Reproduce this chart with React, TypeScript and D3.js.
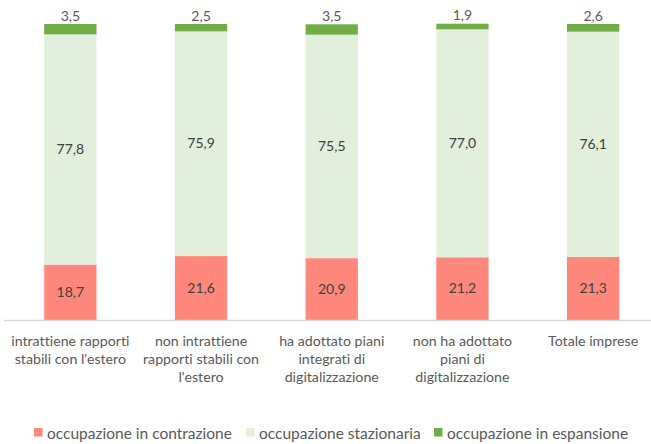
import React from "react";
import * as d3 from "d3";

const categories = [
  "intrattiene rapporti stabili con l'estero",
  "non intrattiene rapporti stabili con l'estero",
  "ha adottato piani integrati di digitalizzazione",
  "non ha adottato piani di digitalizzazione",
  "Totale imprese",
];
const categoryLines = [
  ["intrattiene rapporti", "stabili con l'estero"],
  ["non intrattiene", "rapporti stabili con", "l'estero"],
  ["ha adottato piani", "integrati di", "digitalizzazione"],
  ["non ha adottato", "piani di", "digitalizzazione"],
  ["Totale imprese"],
];
const contrazione = [18.7, 21.6, 20.9, 21.2, 21.3];
const stazionaria = [77.8, 75.9, 75.5, 77.0, 76.1];
const espansione = [3.5, 2.5, 3.5, 1.9, 2.6];

const seriesNames = [
  "occupazione in contrazione",
  "occupazione stazionaria",
  "occupazione in espansione",
];
const seriesColors = ["#FF877C", "#E2EFDA", "#70AD47"];

const W = 651;
const H = 444;
const FONT = "Lato, 'Open Sans', sans-serif";

const fmt = (v: number) => v.toFixed(1).replace(".", ",");

export default function App() {
  const x = d3
    .scaleBand<string>()
    .domain(categories)
    .range([5, 658.5])
    .paddingInner(0.6)
    .paddingOuter(0.3);
  const y = d3.scaleLinear().domain([0, 100]).range([320, 24]);

  const rows = categories.map((c, i) => ({
    cat: c,
    contrazione: contrazione[i],
    stazionaria: stazionaria[i],
    espansione: espansione[i],
  }));
  const keys = ["contrazione", "stazionaria", "espansione"];
  const stack = d3.stack<any>().keys(keys)(rows);

  const legendX = [34, 246, 434];

  return (
    <svg
      width={W}
      height={H}
      style={{
        position: "absolute",
        left: 0,
        top: 0,
        background: "#fff",
        fontVariantLigatures: "none",
        fontFeatureSettings: "'liga' 0, 'clig' 0",
      }}
      fontFamily={FONT}
    >
      <rect x={0} y={0} width={W} height={H} fill="#fff" />
      {stack.map((s, si) =>
        s.map((d, i) => (
          <rect
            key={`${si}-${i}`}
            x={x(categories[i])}
            width={x.bandwidth()}
            y={y(d[1])}
            height={y(d[0]) - y(d[1])}
            fill={seriesColors[si]}
          />
        ))
      )}
      <line x1={4} x2={651} y1={320.5} y2={320.5} stroke="#D9D9D9" strokeWidth={1.5} />
      {stack.map((s, si) =>
        s.map((d, i) => {
          const cx = (x(categories[i]) as number) + x.bandwidth() / 2;
          const val = [contrazione, stazionaria, espansione][si][i];
          const cy = si === 2 ? y(d[1]) - 9 : (y(d[0]) + y(d[1])) / 2 - 1;
          return (
            <text
              key={`l-${si}-${i}`}
              x={cx}
              y={cy}
              textAnchor="middle"
              dominantBaseline="central"
              fontSize={14}
              fill={si === 2 ? "#595959" : "#404040"}
            >
              {fmt(val)}
            </text>
          );
        })
      )}
      {categoryLines.map((lines, i) => {
        const cx = (x(categories[i]) as number) + x.bandwidth() / 2;
        return (
          <text key={`c-${i}`} textAnchor="middle" fontSize={14.2} fill="#595959">
            {lines.map((ln, j) => (
              <tspan key={j} x={cx} y={340 + j * 18.3} dominantBaseline="central">
                {ln}
              </tspan>
            ))}
          </text>
        );
      })}
      {seriesNames.map((n, i) => (
        <g key={`lg-${i}`}>
          <rect x={legendX[i]} y={428} width={8.5} height={8.5} fill={seriesColors[i]} />
          <text
            x={legendX[i] + 13}
            y={432.5}
            dominantBaseline="central"
            fontSize={15.5}
            fill="#595959"
          >
            {n}
          </text>
        </g>
      ))}
    </svg>
  );
}
